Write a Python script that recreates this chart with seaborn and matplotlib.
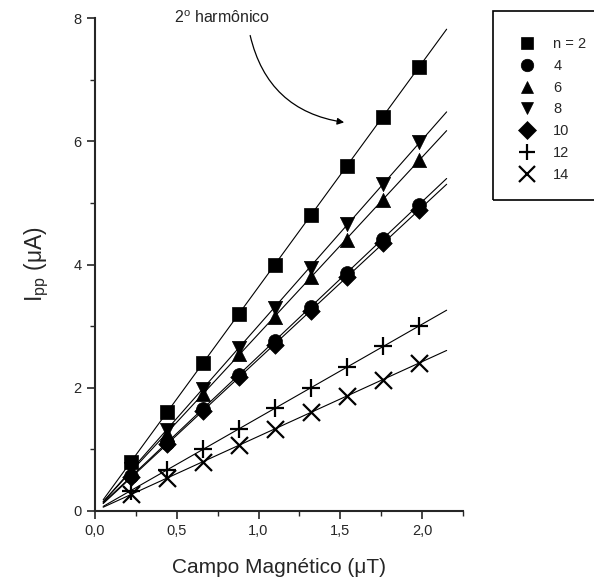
import numpy as np
import pandas as pd
import matplotlib
matplotlib.use("Agg")
import matplotlib.pyplot as plt
import seaborn as sns
from matplotlib.lines import Line2D
from matplotlib.patches import Rectangle
from matplotlib.ticker import MultipleLocator, FuncFormatter

# campo magnetico (uT)
campo = [0.22, 0.44, 0.66, 0.88, 1.10, 1.32, 1.54, 1.76, 1.98]

# corrente pico-a-pico (uA) para cada harmonico n
ipp_n2 = [0.80, 1.60, 2.40, 3.20, 4.00, 4.80, 5.60, 6.40, 7.20]
ipp_n4 = [0.56, 1.11, 1.66, 2.21, 2.76, 3.31, 3.87, 4.42, 4.97]
ipp_n6 = [0.65, 1.25, 1.90, 2.55, 3.15, 3.80, 4.40, 5.05, 5.70]
ipp_n8 = [0.68, 1.32, 1.98, 2.65, 3.30, 3.95, 4.65, 5.30, 5.98]
ipp_n10 = [0.55, 1.08, 1.62, 2.17, 2.70, 3.25, 3.80, 4.35, 4.88]
ipp_n12 = [0.33, 0.67, 1.00, 1.33, 1.67, 2.00, 2.33, 2.67, 3.00]
ipp_n14 = [0.27, 0.53, 0.80, 1.07, 1.33, 1.60, 1.87, 2.13, 2.40]

rotulos = ["n = 2", "4", "6", "8", "10", "12", "14"]
series = [ipp_n2, ipp_n4, ipp_n6, ipp_n8, ipp_n10, ipp_n12, ipp_n14]
marcadores = ["s", "o", "^", "v", "D", "+", "x"]
tamanhos = [90, 100, 105, 105, 80, 150, 150]

sns.set_style("ticks")
plt.rcParams["font.family"] = ["Liberation Sans", "DejaVu Sans"]
plt.rcParams["mathtext.default"] = "regular"

fig = plt.figure(figsize=(5.94, 5.88), dpi=100)
ax = fig.add_axes([95 / 594, 1 - 511 / 588, (463 - 95) / 594, (511 - 18) / 588])

# retas ajustadas
x_fit = np.linspace(0.05, 2.15, 50)
for y in series:
    a, b = np.polyfit(campo, y, 1)
    sns.lineplot(x=x_fit, y=a * x_fit + b, color="black", lw=0.8, ax=ax)

# pontos experimentais
for y, m, s in zip(series, marcadores, tamanhos):
    kw = dict(linewidth=1.6) if m in ("+", "x") else dict(edgecolor="black", linewidth=0.5)
    sns.scatterplot(x=campo, y=y, marker=m, color="black", s=s, ax=ax, zorder=3, **kw)

ax.set_xlim(0, 2.25)
ax.set_ylim(0, 8)
ax.xaxis.set_major_locator(MultipleLocator(0.5))
ax.xaxis.set_minor_locator(MultipleLocator(0.25))
ax.yaxis.set_major_locator(MultipleLocator(2))
ax.yaxis.set_minor_locator(MultipleLocator(1))
ax.xaxis.set_major_formatter(FuncFormatter(lambda v, p: f"{v:.1f}".replace(".", ",")))
ax.tick_params(which="major", length=6, width=1.2, labelsize=10.5)
ax.tick_params(which="minor", length=3.5, width=1.0)
for sp in ["left", "bottom"]:
    ax.spines[sp].set_linewidth(1.5)
sns.despine(ax=ax)

ax.set_xlabel("Campo Magnético (μT)", fontsize=15, labelpad=14)
ax.set_ylabel("I$_{pp}$ (μA)", fontsize=16.5, labelpad=16)

ax.annotate("", xy=(1.54, 6.3), xytext=(0.945, 7.76),
            arrowprops=dict(arrowstyle="-|>", color="black", lw=0.9,
                            connectionstyle="arc3,rad=0.35", mutation_scale=10))
ax.text(0.48, 8.0, "2$^{o}$ harmônico", fontsize=11.5, va="center", ha="left")

# legenda fora dos eixos
fig.patches.append(Rectangle((493 / 594, 1 - 200 / 588), 0.3, 189 / 588,
                             transform=fig.transFigure, fill=False,
                             edgecolor="black", lw=1.2))
handles = [Line2D([], [], ls="none", marker=m, color="black", ms=9 if m not in "+x" else 11,
                  mew=1.6 if m in "+x" else 0.5) for m in marcadores]
fig.legend(handles, rotulos, loc="upper left", bbox_to_anchor=(511 / 594, 1 - 30 / 588),
           frameon=False, fontsize=10.5, handletextpad=1.2, labelspacing=0.53,
           handlelength=1.2, borderpad=0)

fig.savefig("out.png", dpi=100)
